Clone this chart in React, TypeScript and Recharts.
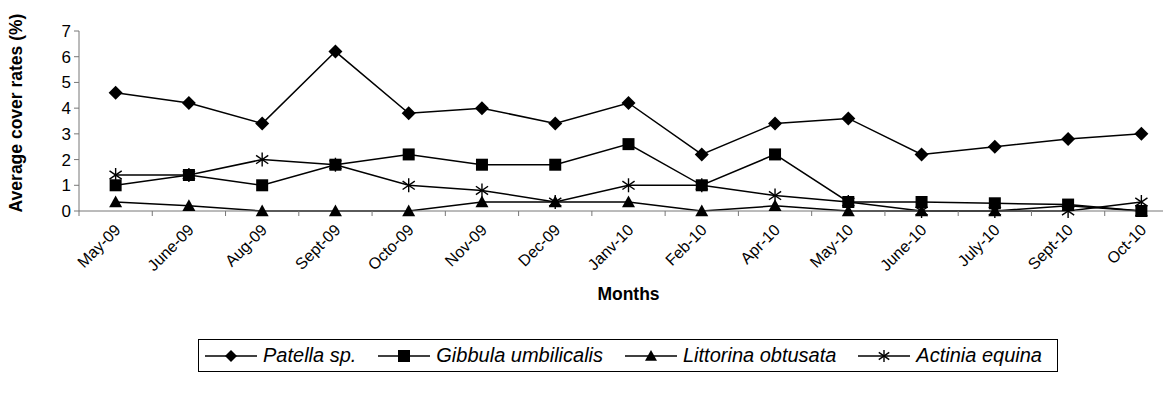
import { LineChart, Line, XAxis, YAxis, Legend } from "recharts";

const months = [
  "May-09", "June-09", "Aug-09", "Sept-09", "Octo-09", "Nov-09", "Dec-09", "Janv-10",
  "Feb-10", "Apr-10", "May-10", "June-10", "July-10", "Sept-10", "Oct-10",
];
const patella = [4.6, 4.2, 3.4, 6.2, 3.8, 4.0, 3.4, 4.2, 2.2, 3.4, 3.6, 2.2, 2.5, 2.8, 3.0];
const gibbula = [1.0, 1.4, 1.0, 1.8, 2.2, 1.8, 1.8, 2.6, 1.0, 2.2, 0.35, 0.35, 0.3, 0.25, 0];
const littorina = [0.35, 0.2, 0, 0, 0, 0.35, 0.35, 0.35, 0, 0.2, 0, 0, 0, 0.2, 0];
const actinia = [1.4, 1.4, 2.0, 1.8, 1.0, 0.8, 0.35, 1.0, 1.0, 0.6, 0.35, 0, 0, 0, 0.35];
const yTicks = [0, 1, 2, 3, 4, 5, 6, 7];

const seriesNames = ["Patella sp.", "Gibbula umbilicalis", "Littorina obtusata", "Actinia equina"];

const data = months.map((m, i) => ({
  month: m,
  patella: patella[i],
  gibbula: gibbula[i],
  littorina: littorina[i],
  actinia: actinia[i],
}));

const FONT = "'Liberation Sans', Arial, sans-serif";
const AXIS = "#777";
const CHART_W = 1180;
const Y_AXIS_W = 79;
const MARGIN_R = 2;
const STEP = (CHART_W - Y_AXIS_W - MARGIN_R) / months.length;

// marker shapes
const Diamond = ({ cx, cy, r = 7 }: any) => (
  <path d={`M${cx},${cy - r}L${cx + r},${cy}L${cx},${cy + r}L${cx - r},${cy}Z`} fill="#000" />
);
const Square = ({ cx, cy, r = 6 }: any) => (
  <rect x={cx - r} y={cy - r} width={2 * r} height={2 * r} fill="#000" />
);
const Triangle = ({ cx, cy, r = 6.5 }: any) => (
  <path d={`M${cx},${cy - r}L${cx + r},${cy + r * 0.8}L${cx - r},${cy + r * 0.8}Z`} fill="#000" />
);
const Asterisk = ({ cx, cy, r = 7 }: any) => (
  <g stroke="#000" strokeWidth={1.4}>
    <line x1={cx} y1={cy - r} x2={cx} y2={cy + r} />
    <line x1={cx - r * 0.87} y1={cy - r * 0.6} x2={cx + r * 0.87} y2={cy + r * 0.6} />
    <line x1={cx - r * 0.87} y1={cy + r * 0.6} x2={cx + r * 0.87} y2={cy - r * 0.6} />
  </g>
);

const shapes = [Diamond, Square, Triangle, Asterisk];
const keys = ["patella", "gibbula", "littorina", "actinia"];

// category labels centred on points, tick marks between categories (Excel style)
const XTick = ({ x, y, payload }: any) => (
  <g>
    <line x1={x - STEP / 2} x2={x - STEP / 2} y1={y} y2={y + 5} stroke={AXIS} />
    <text
      x={x + 6}
      y={y + 20}
      transform={`rotate(-45, ${x + 6}, ${y + 20})`}
      textAnchor="end"
      fontFamily={FONT}
      fontSize={16}
      fill="#000"
    >
      {payload.value}
    </text>
  </g>
);

const LegendBox = () => (
  <div
    style={{
      display: "flex",
      alignItems: "center",
      justifyContent: "space-between",
      border: "1px solid #000",
      height: 33,
      boxSizing: "border-box",
      padding: "0 15px 0 6px",
      fontFamily: FONT,
      fontStyle: "italic",
      fontSize: 20,
    }}
  >
    {seriesNames.map((name, i) => {
      const Shape = shapes[i];
      return (
        <span key={name} style={{ display: "flex", alignItems: "center" }}>
          <svg width={52} height={16}>
            <line x1={0} x2={52} y1={8} y2={8} stroke="#000" strokeWidth={1.5} />
            <Shape cx={26} cy={8} r={6} />
          </svg>
          <span style={{ marginLeft: 6 }}>{name}</span>
        </span>
      );
    })}
  </div>
);

export default function App() {
  return (
    <div style={{ margin: -8, width: 1171, height: 400, overflow: "hidden", position: "relative", background: "#fff" }}>
      <LineChart
        width={CHART_W}
        height={400}
        data={data}
        margin={{ top: 31, right: MARGIN_R, left: 0, bottom: 0 }}
      >
        <YAxis
          width={Y_AXIS_W}
          domain={[0, 7]}
          ticks={yTicks}
          interval={0}
          stroke={AXIS}
          tickSize={5}
          tickMargin={3}
          tick={{ fill: "#000", fontSize: 17, fontFamily: FONT }}
          label={{
            content: ({ viewBox }: any) => (
              <text
                x={viewBox.x + 22}
                y={viewBox.y + viewBox.height / 2 - 8}
                transform={`rotate(-90, ${viewBox.x + 22}, ${viewBox.y + viewBox.height / 2 - 8})`}
                textAnchor="middle"
                fontFamily={FONT}
                fontWeight="bold"
                fontSize={17.5}
                fill="#000"
              >
                Average cover rates (%)
              </text>
            ),
          }}
        />
        <XAxis
          dataKey="month"
          height={156}
          interval={0}
          padding={{ left: STEP / 2, right: STEP / 2 }}
          stroke={AXIS}
          tickLine={false}
          tickSize={0}
          tickMargin={0}
          tick={<XTick />}
          label={{
            content: ({ viewBox }: any) => (
              <text
                x={viewBox.x + viewBox.width / 2}
                y={viewBox.y + 89}
                textAnchor="middle"
                fontFamily={FONT}
                fontWeight="bold"
                fontSize={17.5}
                fill="#000"
              >
                Months
              </text>
            ),
          }}
        />
        <Legend
          content={<LegendBox />}
          wrapperStyle={{ top: 339, bottom: "auto", left: 198, width: 860, height: 33 }}
        />
        {keys.map((k, i) => {
          const Shape = shapes[i];
          return (
            <Line
              key={k}
              dataKey={k}
              name={seriesNames[i]}
              stroke="#000"
              strokeWidth={1.5}
              isAnimationActive={false}
              dot={(p: any) => <Shape key={`${k}-${p.index}`} cx={p.cx} cy={p.cy} />}
              activeDot={false}
            />
          );
        })}
      </LineChart>
    </div>
  );
}
